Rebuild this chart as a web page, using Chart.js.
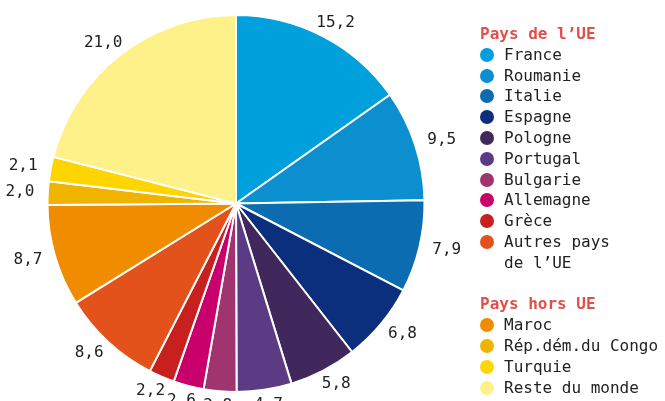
<!DOCTYPE html>
<html>
<head>
<meta charset="utf-8">
<script src="https://cdn.jsdelivr.net/npm/chart.js@4"></script>
<style>
  body { margin: 0; background: #fff; }
  #wrap { position: relative; width: 665px; height: 401px; }
  #legend {
    position: absolute; left: 480px; top: 24px;
    font-family: "DejaVu Sans Mono", monospace; font-size: 16px;
    line-height: 20.8px; color: #222;
  }
  #legend .head { color: #e0504a; font-weight: bold; }
  #legend .item { position: relative; padding-left: 24px; }
  #legend .dot {
    position: absolute; left: 0; top: 3px;
    width: 14px; height: 14px; border-radius: 50%;
  }
  #legend .gap { height: 20.8px; }
</style>
</head>
<body>
<div id="wrap">
  <canvas id="pie" width="665" height="401"></canvas>
  <div id="legend"></div>
</div>
<script>
// DATA
const countries = ['France', 'Roumanie', 'Italie', 'Espagne', 'Pologne', 'Portugal', 'Bulgarie',
    'Allemagne', 'Grèce', 'Autres pays de l\u2019UE', 'Maroc', 'Rép.dém.du Congo', 'Turquie', 'Reste du monde'];
const shares = [15.2, 9.5, 7.9, 6.8, 5.8, 4.7, 2.8, 2.6, 2.2, 8.6, 8.7, 2.0, 2.1, 21.0];
const colors = ['#00a0dc', '#0b8fcf', '#0b6cb2', '#0b2f7d', '#41285c', '#5b3b84', '#a0346e',
    '#c9006b', '#c8201f', '#e2521a', '#f08c00', '#f0b400', '#ffd500', '#fff18a'];
const groups = [
    { title: 'Pays de l\u2019UE', from: 0, to: 10 },
    { title: 'Pays hors UE', from: 10, to: 14 }
];

// LEGEND (html, grouped)
const legend = document.getElementById('legend');
groups.forEach((g, gi) => {
    if (gi > 0) legend.insertAdjacentHTML('beforeend', '<div class="gap"></div>');
    legend.insertAdjacentHTML('beforeend', '<div class="head">' + g.title + '</div>');
    for (let i = g.from; i < g.to; i++) {
        let name = countries[i];
        if (name.startsWith('Autres')) name = 'Autres pays<br>de l\u2019UE';
        legend.insertAdjacentHTML('beforeend',
            '<div class="item"><span class="dot" style="background:' + colors[i] + '"></span>' + name + '</div>');
    }
});

// VALUE LABELS OUTSIDE THE SLICES (on a slightly wide ellipse)
const outsideLabels = {
    id: 'outsideLabels',
    afterDatasetsDraw(chart) {
        const ctx = chart.ctx;
        const meta = chart.getDatasetMeta(0);
        ctx.save();
        ctx.font = '16px "DejaVu Sans Mono"';
        ctx.fillStyle = '#222';
        ctx.textAlign = 'center';
        ctx.textBaseline = 'middle';
        meta.data.forEach((arc, i) => {
            const p = arc.getProps(['x', 'y', 'startAngle', 'endAngle', 'outerRadius'], true);
            const mid = (p.startAngle + p.endAngle) / 2;
            const dx = p.outerRadius + 28;
            const dy = p.outerRadius + 15;
            const txt = shares[i].toFixed(1).replace('.', ',');
            ctx.fillText(txt, p.x + Math.cos(mid) * dx, p.y + Math.sin(mid) * dy);
        });
        ctx.restore();
    }
};

new Chart(document.getElementById('pie'), {
    type: 'pie',
    data: {
        labels: countries,
        datasets: [{
            data: shares,
            backgroundColor: colors,
            borderColor: '#ffffff',
            borderWidth: 2
        }]
    },
    options: {
        responsive: false,
        animation: false,
        layout: { padding: { top: 14, bottom: 8, left: 0, right: 193 } },
        plugins: {
            legend: { display: false },
            tooltip: { enabled: false }
        }
    },
    plugins: [outsideLabels]
});
</script>
</body>
</html>
